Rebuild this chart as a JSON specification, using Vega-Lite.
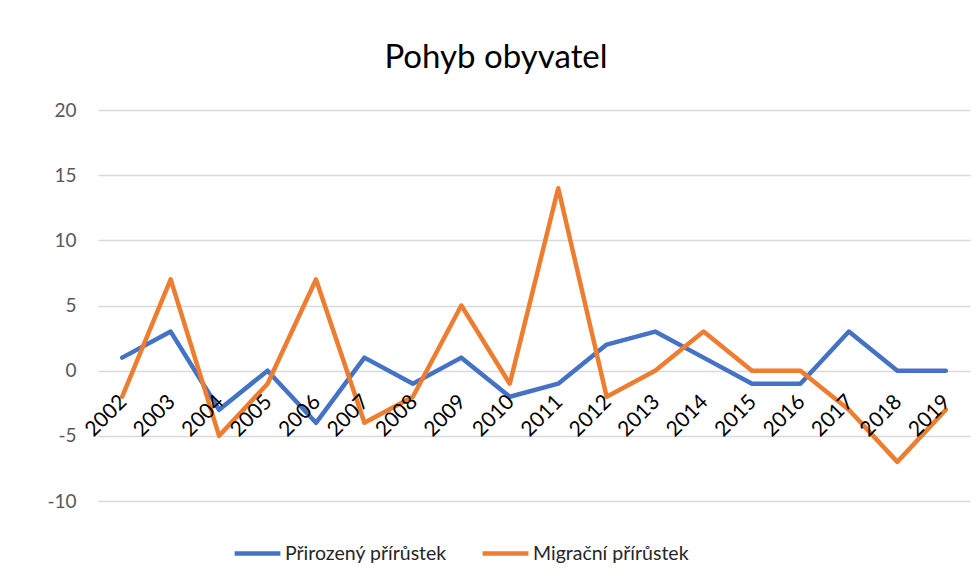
{
  "$schema": "https://vega.github.io/schema/vega-lite/v6.json",
  "autosize": {"type": "none"},
  "width": 872,
  "height": 391,
  "padding": {"left": 98, "top": 110, "right": 6, "bottom": 81},
  "background": "white",
  "config": {
    "view": {"stroke": null},
    "font": "Lato"
  },
  "title": {
    "text": "Pohyb obyvatel",
    "fontSize": 33,
    "fontWeight": "normal",
    "color": "#000000",
    "anchor": "middle",
    "dx": -38,
    "offset": 26,
    "font": "Lato"
  },
  "data": {
    "values": [
      {"rok": "2002", "serie": "Přirozený přírůstek", "hodnota": 1},
      {"rok": "2003", "serie": "Přirozený přírůstek", "hodnota": 3},
      {"rok": "2004", "serie": "Přirozený přírůstek", "hodnota": -3},
      {"rok": "2005", "serie": "Přirozený přírůstek", "hodnota": 0},
      {"rok": "2006", "serie": "Přirozený přírůstek", "hodnota": -4},
      {"rok": "2007", "serie": "Přirozený přírůstek", "hodnota": 1},
      {"rok": "2008", "serie": "Přirozený přírůstek", "hodnota": -1},
      {"rok": "2009", "serie": "Přirozený přírůstek", "hodnota": 1},
      {"rok": "2010", "serie": "Přirozený přírůstek", "hodnota": -2},
      {"rok": "2011", "serie": "Přirozený přírůstek", "hodnota": -1},
      {"rok": "2012", "serie": "Přirozený přírůstek", "hodnota": 2},
      {"rok": "2013", "serie": "Přirozený přírůstek", "hodnota": 3},
      {"rok": "2014", "serie": "Přirozený přírůstek", "hodnota": 1},
      {"rok": "2015", "serie": "Přirozený přírůstek", "hodnota": -1},
      {"rok": "2016", "serie": "Přirozený přírůstek", "hodnota": -1},
      {"rok": "2017", "serie": "Přirozený přírůstek", "hodnota": 3},
      {"rok": "2018", "serie": "Přirozený přírůstek", "hodnota": 0},
      {"rok": "2019", "serie": "Přirozený přírůstek", "hodnota": 0},
      {"rok": "2002", "serie": "Migrační přírůstek", "hodnota": -2},
      {"rok": "2003", "serie": "Migrační přírůstek", "hodnota": 7},
      {"rok": "2004", "serie": "Migrační přírůstek", "hodnota": -5},
      {"rok": "2005", "serie": "Migrační přírůstek", "hodnota": -1},
      {"rok": "2006", "serie": "Migrační přírůstek", "hodnota": 7},
      {"rok": "2007", "serie": "Migrační přírůstek", "hodnota": -4},
      {"rok": "2008", "serie": "Migrační přírůstek", "hodnota": -2},
      {"rok": "2009", "serie": "Migrační přírůstek", "hodnota": 5},
      {"rok": "2010", "serie": "Migrační přírůstek", "hodnota": -1},
      {"rok": "2011", "serie": "Migrační přírůstek", "hodnota": 14},
      {"rok": "2012", "serie": "Migrační přírůstek", "hodnota": -2},
      {"rok": "2013", "serie": "Migrační přírůstek", "hodnota": 0},
      {"rok": "2014", "serie": "Migrační přírůstek", "hodnota": 3},
      {"rok": "2015", "serie": "Migrační přírůstek", "hodnota": 0},
      {"rok": "2016", "serie": "Migrační přírůstek", "hodnota": 0},
      {"rok": "2017", "serie": "Migrační přírůstek", "hodnota": -3},
      {"rok": "2018", "serie": "Migrační přírůstek", "hodnota": -7},
      {"rok": "2019", "serie": "Migrační přírůstek", "hodnota": -3}
    ]
  },
  "encoding": {
    "x": {
      "field": "rok",
      "type": "ordinal",
      "scale": {"type": "point", "padding": 0.5},
      "axis": null
    }
  },
  "layer": [
    {
      "mark": {"type": "line", "strokeWidth": 4.5, "strokeCap": "round", "strokeJoin": "round"},
      "encoding": {
        "y": {
          "field": "hodnota",
          "type": "quantitative",
          "scale": {"domain": [-10, 20], "nice": false, "zero": false},
          "axis": {
            "title": null,
            "values": [-10, -5, 0, 5, 10, 15, 20],
            "labelExpr": "toString(datum.value)",
            "domain": false,
            "ticks": false,
            "labelPadding": 22,
            "labelFontSize": 19,
            "labelColor": "#595959",
            "labelFont": "Lato",
            "gridColor": "#d9d9d9",
            "gridWidth": 1.3
          }
        },
        "color": {
          "field": "serie",
          "type": "nominal",
          "scale": {
            "domain": ["Přirozený přírůstek", "Migrační přírůstek"],
            "range": ["#4472C4", "#ED7D31"]
          },
          "legend": {
            "title": null,
            "orient": "none",
            "legendX": 134,
            "legendY": 418,
            "direction": "horizontal",
            "symbolType": "stroke",
            "symbolSize": 2100,
            "symbolStrokeWidth": 4.5,
            "labelFontSize": 19.5,
            "labelFont": "Lato",
            "labelColor": "#262626",
            "labelOffset": 2,
            "columnPadding": 26,
            "labelLimit": 300
          }
        }
      }
    },
    {
      "transform": [{"filter": "datum.serie === 'Přirozený přírůstek'"}],
      "mark": {
        "type": "text",
        "angle": -45,
        "align": "right",
        "baseline": "middle",
        "fontSize": 21,
        "font": "Lato",
        "color": "#000000",
        "dx": -19,
        "dy": 21
      },
      "encoding": {
        "y": {"datum": 0},
        "text": {"field": "rok"}
      }
    }
  ]
}
